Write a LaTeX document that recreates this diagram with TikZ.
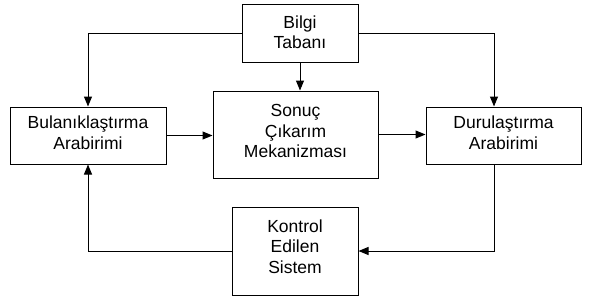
\documentclass[tikz,border=0pt]{standalone}
\usepackage{fontspec}
\setmainfont{Liberation Sans}
\usetikzlibrary{arrows.meta}
\begin{document}
\begin{tikzpicture}[x=1pt,y=-1pt,
  blk/.style={draw=black,line width=1pt,inner sep=0pt,fill=white},
  btxt/.style={font=\fontsize{17.5}{20.5}\selectfont,align=center,inner sep=0pt},
  arr/.style={draw=black,line width=1pt,-{Triangle[length=10pt,width=8pt]}}]
\useasboundingbox (0,0) rectangle (590,300);
\node[blk,minimum width=116pt,minimum height=58pt,
  label={[btxt,yshift=1pt]center:Bilgi\\Tabanı}] (bilgi) at (300,33) {};
\node[blk,minimum width=156pt,minimum height=57pt,
  label={[btxt,yshift=3pt]center:Bulanıklaştırma\\Arabirimi}] (bul) at (88,135.5) {};
\node[blk,minimum width=165pt,minimum height=87pt,
  label={[btxt,yshift=3.5pt]center:Sonuç\\Çıkarım\\Mekanizması}] (son) at (295.5,134.5) {};
\node[blk,minimum width=155pt,minimum height=57pt,
  label={[btxt,yshift=3pt]center:Durulaştırma\\Arabirimi}] (dur) at (503.5,135.5) {};
\node[blk,minimum width=126pt,minimum height=88pt,
  label={[btxt,yshift=4.5pt]center:Kontrol\\Edilen\\Sistem}] (kon) at (295,251) {};
\coordinate (dx) at (494,0);
\draw[arr] (bilgi.west) -| (bul.north);
\draw[arr] (bilgi.east) -| (dx |- dur.north);
\draw[arr] (bilgi.south) -- (bilgi.south |- son.north);
\draw[arr] (bul.east) -- (son.west |- bul.east);
\draw[arr] (son.east) -- (dur.west |- son.east);
\draw[arr] (dx |- dur.south) |- (kon.east);
\draw[arr] (kon.west) -| (bul.south);
\end{tikzpicture}
\end{document}
